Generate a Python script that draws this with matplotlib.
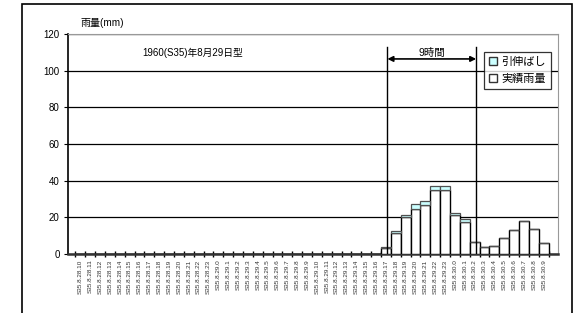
import matplotlib
matplotlib.use("Agg")
import matplotlib.pyplot as plt
from matplotlib.patches import Patch, Rectangle
import numpy as np

plt.rcParams["font.family"] = ["Liberation Sans", "Noto Sans CJK JP", "DejaVu Sans"]

# hourly categories S35.8.28.10 ... S35.8.30.9
categories = [
    "S35.8.28.10", "S35.8.28.11", "S35.8.28.12", "S35.8.28.13", "S35.8.28.14",
    "S35.8.28.15", "S35.8.28.16", "S35.8.28.17", "S35.8.28.18", "S35.8.28.19",
    "S35.8.28.20", "S35.8.28.21", "S35.8.28.22", "S35.8.28.23",
    "S35.8.29.0", "S35.8.29.1", "S35.8.29.2", "S35.8.29.3", "S35.8.29.4",
    "S35.8.29.5", "S35.8.29.6", "S35.8.29.7", "S35.8.29.8", "S35.8.29.9",
    "S35.8.29.10", "S35.8.29.11", "S35.8.29.12", "S35.8.29.13", "S35.8.29.14",
    "S35.8.29.15", "S35.8.29.16", "S35.8.29.17", "S35.8.29.18", "S35.8.29.19",
    "S35.8.29.20", "S35.8.29.21", "S35.8.29.22", "S35.8.29.23",
    "S35.8.30.0", "S35.8.30.1", "S35.8.30.2", "S35.8.30.3", "S35.8.30.4",
    "S35.8.30.5", "S35.8.30.6", "S35.8.30.7", "S35.8.30.8", "S35.8.30.9",
]

# 実績雨量 (actual rainfall, mm)
actual = [0] * 31 + [
    3.3, 11.6, 20.0, 24.5, 26.7, 34.9, 34.9,
    21.1, 17.3, 6.5, 3.6, 4.2, 8.5, 12.9, 18.0, 13.8, 5.8,
]
# 引伸ばし (stretch added on top, mm)
stretch = [0] * 31 + [
    0.4, 0.9, 1.3, 2.6, 2.4, 2.4, 2.4,
    1.4, 1.6, 0, 0, 0, 0, 0, 0, 0, 0,
]

title_text = "1960(S35)年8月29日型"
ylabel_text = "雨量(mm)"
span_text = "9時間"
span_start, span_end = 31.65, 40.65

fig = plt.figure(figsize=(5.78, 3.13), dpi=100)
ax = fig.add_axes([68 / 578, 59 / 313, 490 / 578, 220 / 313])

x = np.arange(len(categories))
actual = np.array(actual)
stretch = np.array(stretch)

ax.bar(x, actual, width=1.0, align="edge", color="white",
       edgecolor="black", linewidth=1.0, zorder=3)
ax.bar(x, stretch, width=1.0, align="edge", bottom=actual, color="#CCFFFF",
       edgecolor="#505050", linewidth=0.9, zorder=3)

ax.set_xlim(-0.75, 48.95)
ax.set_ylim(0, 120)
ax.set_yticks(np.arange(0, 121, 20))
ax.yaxis.grid(True, color="black", linewidth=0.9, zorder=1)
ax.set_axisbelow(True)

ax.set_xticks(x + 0.5)
ax.set_xticklabels(categories, rotation=90, fontsize=4.6, color="#333333")
ax.set_xticks(np.arange(0, len(categories) + 1), minor=True)
ax.tick_params(axis="x", which="major", length=0, pad=4)
ax.tick_params(axis="x", which="minor", direction="inout", length=4, width=1)
ax.tick_params(axis="y", direction="out", length=3, labelsize=7, pad=3)

for side in ["top", "right"]:
    ax.spines[side].set_color("#999999")
    ax.spines[side].set_linewidth(0.8)
ax.spines["left"].set_linewidth(1.2)
ax.spines["bottom"].set_linewidth(1.8)
ax.spines["bottom"].set_color("#333333")

# 9-hour window lines and arrow
for xv in (span_start, span_end):
    ax.plot([xv, xv], [0, 112.7], color="black", linewidth=1.0, zorder=4)
ax.annotate("", xy=(span_end, 106.4), xytext=(span_start, 106.4),
            arrowprops=dict(arrowstyle="<|-|>", color="black", lw=1.2,
                            mutation_scale=8, shrinkA=0, shrinkB=0), zorder=5)
ax.text((span_start + span_end) / 2, 109.8, span_text, ha="center",
        va="center", fontsize=7.5)

ax.text(11.9, 109.5, title_text, ha="center", va="center", fontsize=7)
ax.text(0.025, 1.05, ylabel_text, transform=ax.transAxes, ha="left",
        va="center", fontsize=7.2)

handles = [
    Patch(facecolor="#CCFFFF", edgecolor="#333333", label="引伸ばし"),
    Patch(facecolor="white", edgecolor="#333333", label="実績雨量"),
]
leg = ax.legend(handles=handles, loc="upper left", bbox_to_anchor=(0.849, 0.918),
                fontsize=8, frameon=True, fancybox=False, handlelength=0.7,
                handleheight=0.7, handletextpad=0.4, borderpad=0.45,
                labelspacing=0.6, borderaxespad=0)
leg.get_frame().set_edgecolor("black")
leg.get_frame().set_linewidth(0.9)
leg.set_zorder(6)

# outer chart frame
fig.add_artist(Rectangle((22 / 578, -0.05), 550 / 578, 1.05 - 4 / 313,
                         transform=fig.transFigure, fill=False,
                         edgecolor="black", linewidth=1.2, clip_on=False))

fig.savefig("out.png", dpi=100)
